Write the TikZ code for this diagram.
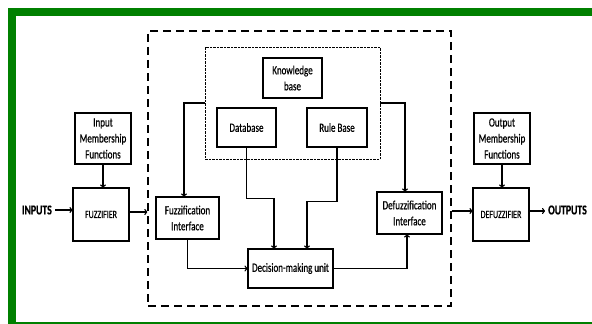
\documentclass[tikz,border=0pt]{standalone}
\usepackage{fontspec}
\setmainfont{Carlito}[FakeStretch=0.72, FakeBold=0.6]
\usetikzlibrary{arrows.meta}
\definecolor{frame}{RGB}{0,128,0}
\tikzset{
  box/.style={draw, line width=1.2pt, align=center, inner sep=1pt, font=\fontsize{12.5}{16}\selectfont},
  capbox/.style={box, font=\fontsize{11}{12}\selectfont},
  arr/.style={line width=1.1pt, -{To[length=3pt,width=6pt]}},
  bigdash/.style={draw, line width=1.4pt, dash pattern=on 8pt off 5pt},
  smalldash/.style={draw, line width=0.9pt, dash pattern=on 2.5pt off 1pt},
  lbl/.style={font=\fontsize{13.5}{14}\bfseries\selectfont, inner sep=0pt}
}
\begin{document}
\begin{tikzpicture}[x=1pt,y=-1pt]
\useasboundingbox (0,0) rectangle (592,324);
\begin{scope}
\clip (0,0) rectangle (592,324);
\fill[frame] (8,8) rectangle (610,330);
\fill[white] (16,16) rectangle (610,322);
\end{scope}
% dashed containers
\node[bigdash, minimum width=303pt, minimum height=275pt] (outer) at (299.5,168.5) {};
\node[smalldash, minimum width=175pt, minimum height=112pt] (kbox) at (292.5,103) {};
% boxes
\node[box, minimum width=59pt, minimum height=40pt] (kb) at (292.5,78) {Knowledge\\base};
\node[box, minimum width=59pt, minimum height=39pt] (db) at (246.5,127.5) {Database};
\node[box, minimum width=60pt, minimum height=39pt] (rb) at (337,127.5) {Rule Base};
\node[box, minimum width=56pt, minimum height=51pt] (imf) at (103,138.5) {Input\\Membership\\Functions};
\node[box, minimum width=56pt, minimum height=51pt] (omf) at (502,138.5) {Output\\Membership\\Functions};
\node[capbox, minimum width=56pt, minimum height=53pt] (fuz) at (101,214.5) {FUZZIFIER};
\node[capbox, minimum width=56pt, minimum height=53pt] (defuz) at (501,214.5) {DEFUZZIFIER};
\node[box, minimum width=63pt, minimum height=42pt] (fi) at (187.5,218) {Fuzzification\\Interface};
\node[box, minimum width=65pt, minimum height=42pt] (di) at (409.5,213) {Defuzzification\\Interface};
\node[box, minimum width=85pt, minimum height=39pt] (dm) at (290.5,268.5) {Decision-making unit};
\node[lbl, anchor=east] (in) at (52,210) {INPUTS};
\node[lbl, anchor=west] (out) at (548,210) {OUTPUTS};
% connectors
\draw[arr] (in.east) ++(3,0) -- (fuz.west |- in.east);
\draw[arr] (imf.south) -- (imf.south |- fuz.north);
\draw[arr] (omf.south) -- (omf.south |- defuz.north);
\draw[arr] (fuz.east |- 0,212) -- (outer.west |- 0,212);
\draw[arr] (outer.east |- 0,211) -- (defuz.west |- 0,211);
\draw[arr] (defuz.east |- 0,211) -- ([xshift=-3pt]out.west |- 0,211);
\draw[arr] (kbox.west) -| ([xshift=-3.5pt]fi.north);
\draw[arr] (kbox.east) -| ([xshift=-4.5pt]di.north);
\draw[arr] (db.south) -- ++(0,51) -| ([xshift=-16.5pt]dm.north);
\draw[arr] (rb.south) -- ++(0,54) -| ([xshift=16.5pt]dm.north);
\draw[arr] (fi.south) |- (dm.west);
\draw[arr] (dm.east) -| ([xshift=-2.5pt]di.south);
\end{tikzpicture}
\end{document}
